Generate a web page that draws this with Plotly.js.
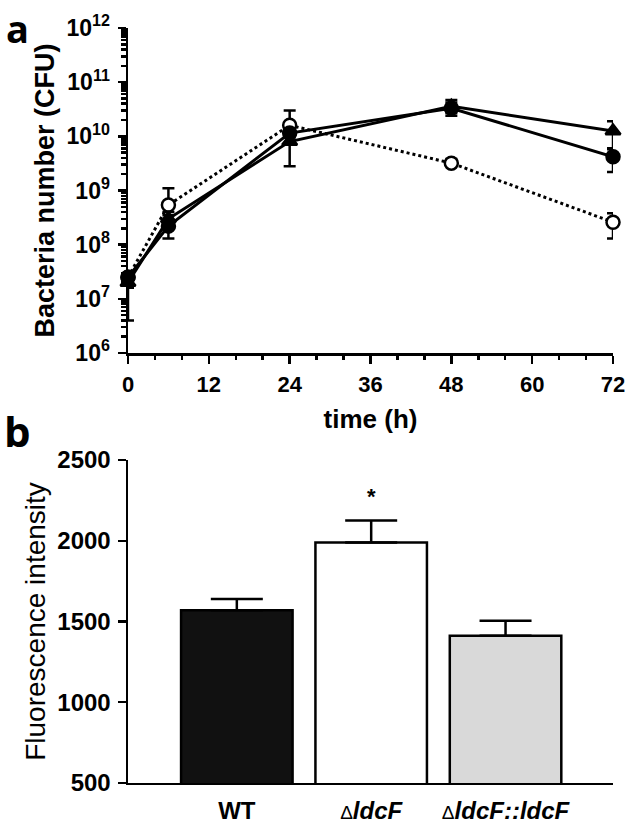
<!DOCTYPE html>
<html>
<head>
<meta charset="utf-8">
<script src="https://cdn.plot.ly/plotly-3.0.1.min.js"></script>
<style>html,body{margin:0;padding:0;background:#fff;}#chart{width:629px;height:824px;}</style>
</head>
<body>
<div id="chart"></div>
<script>
// ---- Panel a data ----
const time = [0, 6, 24, 48, 72];
const wt = [2.5e7, 2.2e8, 1.15e10, 3.3e10, 4.2e9];
const wtHi = [3.0e7, 2.8e8, 1.35e10, 4.2e10, 5.8e9];
const wtLo = [2.0e7, 1.3e8, 9.5e9, 2.4e10, 2.2e9];
const comp = [2.0e7, 3.0e8, 8.0e9, 3.6e10, 1.25e10];
const compHi = [2.5e7, 3.5e8, 1.0e10, 4.7e10, 1.9e10];
const compLo = [1.6e7, 2.5e8, 2.8e9, 2.7e10, 6.0e9];
const mut = [2.5e7, 5.4e8, 1.6e10, 3.2e9, 2.6e8];
const mutHi = [3.0e7, 1.1e9, 3.0e10, 3.8e9, 3.8e8];
const mutLo = [4.0e6, 4.0e8, 1.2e10, 2.9e9, 1.3e8];
const xTickVals = [0, 12, 24, 36, 48, 60, 72];
const yTickVals = [1e6, 1e7, 1e8, 1e9, 1e10, 1e11, 1e12];
const yTickText = ['10<sup>6</sup>', '10<sup>7</sup>', '10<sup>8</sup>', '10<sup>9</sup>', '10<sup>10</sup>', '10<sup>11</sup>', '10<sup>12</sup>'];

// ---- Panel b data ----
const strains = ['WT', 'ΔldcF', 'ΔldcF::ldcF'];
const strainLabels = [
  '<b>WT</b>',
  '<span style="font-size:19px">Δ</span><b><i>ldcF</i></b>',
  '<span style="font-size:19px">Δ</span><b><i>ldcF::ldcF</i></b>'
];
const fluor = [1570, 1990, 1412];
const fluorErr = [70, 135, 92];
const barColors = ['#111111', '#ffffff', '#d9d9d9'];

const plus = (v, hi) => v.map((d, i) => hi[i] - d);
const minus = (v, lo) => v.map((d, i) => d - lo[i]);

function series(y, hi, lo, filled, symbol, dash) {
  return {
    x: time, y: y, type: 'scatter', mode: 'lines+markers', xaxis: 'x', yaxis: 'y',
    cliponaxis: false,
    line: {color: '#000', width: 3, dash: dash},
    marker: {symbol: symbol, size: 13, color: filled ? '#000' : '#fff', line: {color: '#000', width: 2.5}},
    error_y: {type: 'data', symmetric: false, array: plus(y, hi), arrayminus: minus(y, lo), color: '#000', thickness: 2.5, width: 6},
    showlegend: false
  };
}

const traces = [
  series(mut, mutHi, mutLo, false, 'circle', 'dot'),
  series(comp, compHi, compLo, true, 'triangle-up', 'solid'),
  series(wt, wtHi, wtLo, true, 'circle', 'solid'),
  {
    x: strains, y: fluor, type: 'bar', xaxis: 'x2', yaxis: 'y2', width: 0.83,
    marker: {color: barColors, line: {color: '#000', width: 2.5}},
    error_y: {type: 'data', symmetric: false, array: fluorErr, arrayminus: [0, 0, 0], color: '#000', thickness: 2.5, width: 26},
    showlegend: false
  }
];

const FAM = 'Liberation Sans, Arial, sans-serif';
const boldFont = (s) => ({family: FAM, size: s, color: '#000', weight: 'bold'});
const axisCommon = {showgrid: false, zeroline: false, showline: true, linecolor: '#000', linewidth: 2.5,
  ticks: 'outside', ticklen: 8, tickwidth: 2.5, tickcolor: '#000'};

const layout = {
  width: 629, height: 824,
  margin: {l: 0, r: 0, t: 0, b: 0},
  paper_bgcolor: '#fff', plot_bgcolor: '#fff',
  font: {family: FAM, color: '#000'},
  xaxis: Object.assign({}, axisCommon, {
    domain: [0.2035, 0.9746], anchor: 'y', range: [0, 72], tickvals: xTickVals,
    tickfont: boldFont(22), ticklabelstandoff: 2,
    minor: {ticks: 'outside', ticklen: 4, tickwidth: 2.5, tickcolor: '#000', dtick: 4},
    title: {text: '<b>time (h)</b>', font: {family: FAM, size: 26, color: '#000'}, standoff: 14}
  }),
  yaxis: Object.assign({}, axisCommon, {
    domain: [0.5716, 0.966], anchor: 'x', type: 'log', range: [6, 12],
    tickvals: yTickVals, ticktext: yTickText, tickfont: boldFont(23), ticklabelstandoff: 3,
    minor: {ticks: 'outside', ticklen: 5, tickwidth: 2.5, tickcolor: '#000', dtick: 'D1'},
    title: {text: '<b>Bacteria number (CFU)</b>', font: {family: FAM, size: 27, color: '#000'}, standoff: 4}
  }),
  xaxis2: Object.assign({}, axisCommon, {
    domain: [0.2035, 0.9746], anchor: 'y2', range: [-0.81, 2.8], ticks: '',
    tickvals: strains, ticktext: strainLabels, ticklabelstandoff: 5,
    tickfont: {family: FAM, size: 24, color: '#000'}
  }),
  yaxis2: Object.assign({}, axisCommon, {
    domain: [0.0498, 0.4417], anchor: 'x2', range: [500, 2500], dtick: 500, tickfont: boldFont(24),
    ticklabelstandoff: 2,
    title: {text: 'Fluorescence intensity', font: {family: FAM, size: 28, color: '#000'}, standoff: 4}
  }),
  annotations: [
    {text: '<b>a</b>', xref: 'paper', yref: 'paper', x: 17 / 629, y: 1, xanchor: 'center', yanchor: 'top', showarrow: false,
      font: {family: 'Open Sans, sans-serif', size: 38, color: '#000'}},
    {text: '<b>b</b>', xref: 'paper', yref: 'paper', x: 17 / 629, y: 1 - 430 / 824, xanchor: 'center', yanchor: 'middle', showarrow: false,
      font: {family: 'Open Sans, sans-serif', size: 42, color: '#000'}},
    {text: '<b>*</b>', xref: 'x2', yref: 'y2', x: strains[1], y: fluor[1] + fluorErr[1], yanchor: 'bottom', yshift: 10, showarrow: false,
      font: {family: FAM, size: 22, color: '#000'}}
  ]
};

Plotly.newPlot('chart', traces, layout, {staticPlot: true, displayModeBar: false});
</script>
</body>
</html>
